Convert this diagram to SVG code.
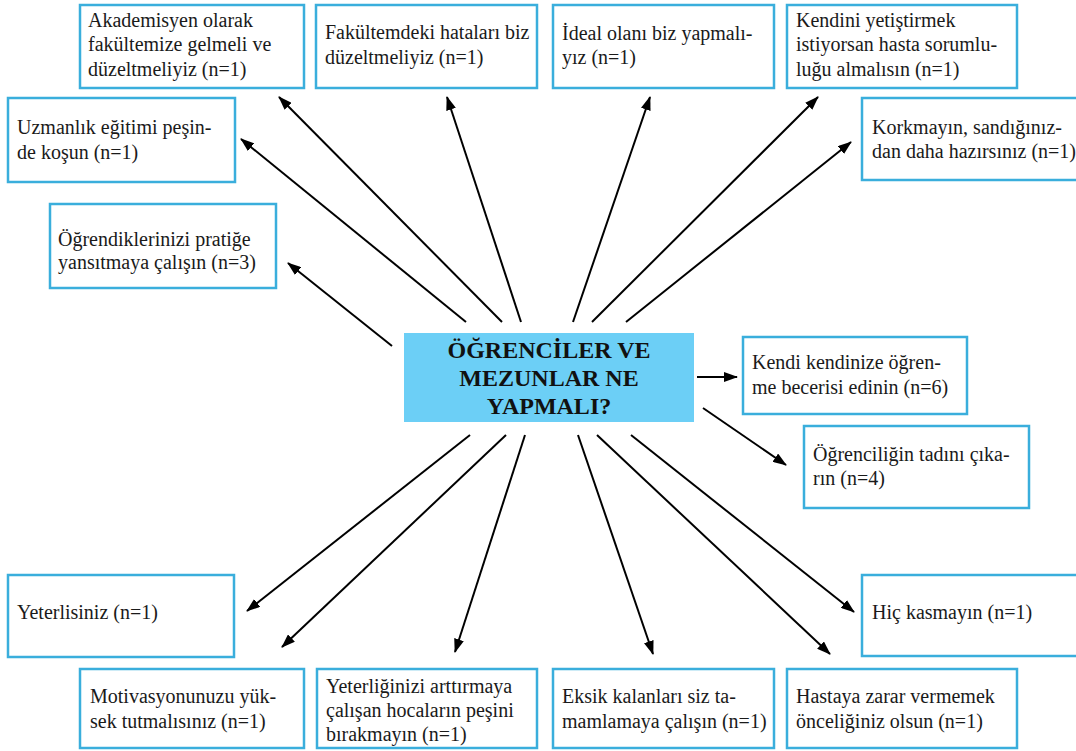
<svg xmlns="http://www.w3.org/2000/svg" width="1076" height="751" viewBox="0 0 1076 751">
  <style>
    .box { fill: #ffffff; stroke: #3aaedc; stroke-width: 2.5; }
    .hub { fill: #6ccff6; stroke: none; }
    text { font-family: 'Liberation Serif', Tinos, 'Times New Roman', 'DejaVu Serif', serif; }
    .t { font-size: 20px; fill: #1a1a1a; }
    .h { font-size: 24px; font-weight: bold; fill: #111111; text-anchor: middle; }
    .c line { stroke: #000000; stroke-width: 2; marker-end: url(#ah); }
  </style>
  <defs>
    <marker id="ah" viewBox="0 0 14 10" refX="13" refY="5" markerWidth="14" markerHeight="10" markerUnits="userSpaceOnUse" orient="auto">
      <path d="M0,0 L14,5 L0,10 Z" fill="#000000"/>
    </marker>
  </defs>
  <rect width="1076" height="751" fill="#ffffff"/>

  <!-- connectors radiating from the central topic -->
  <g id="connectors" class="c">
    <line x1="466" y1="322" x2="241" y2="139"/>
    <line x1="502" y1="322" x2="279" y2="97"/>
    <line x1="521" y1="322" x2="447" y2="97"/>
    <line x1="573" y1="322" x2="650" y2="97"/>
    <line x1="592" y1="322" x2="818" y2="97"/>
    <line x1="626" y1="322" x2="851" y2="142"/>
    <line x1="392" y1="346" x2="288" y2="263"/>
    <line x1="697" y1="377" x2="737" y2="377"/>
    <line x1="703" y1="408" x2="786" y2="465"/>
    <line x1="470" y1="435" x2="247" y2="611"/>
    <line x1="506" y1="435" x2="282" y2="647"/>
    <line x1="525" y1="435" x2="455" y2="652"/>
    <line x1="578" y1="435" x2="653" y2="654"/>
    <line x1="597" y1="435" x2="830" y2="654"/>
    <line x1="631" y1="435" x2="854" y2="612"/>
  </g>

  <!-- central topic -->
  <g id="hub">
    <rect class="hub" x="404" y="333" width="290" height="89"/>
    <text class="h" x="549" y="358">ÖĞRENCİLER VE</text>
    <text class="h" x="549" y="386">MEZUNLAR NE</text>
    <text class="h" x="549" y="414">YAPMALI?</text>
  </g>

  <g id="n-akademisyen">
    <rect class="box" x="80" y="5" width="224" height="83"/>
    <text class="t" x="88" y="27">Akademisyen olarak</text>
    <text class="t" x="88" y="51">fakültemize gelmeli ve</text>
    <text class="t" x="88" y="76">düzeltmeliyiz (n=1)</text>
  </g>
  <g id="n-fakultemdeki">
    <rect class="box" x="316" y="5" width="221" height="83"/>
    <text class="t" x="325" y="39">Fakültemdeki hataları biz</text>
    <text class="t" x="325" y="64">düzeltmeliyiz (n=1)</text>
  </g>
  <g id="n-ideal">
    <rect class="box" x="553" y="5" width="221" height="83"/>
    <text class="t" x="562" y="40">İdeal olanı biz yapmalı-</text>
    <text class="t" x="562" y="64">yız (n=1)</text>
  </g>
  <g id="n-kendini">
    <rect class="box" x="787" y="5" width="230" height="83"/>
    <text class="t" x="796" y="27">Kendini yetiştirmek</text>
    <text class="t" x="796" y="51">istiyorsan hasta sorumlu-</text>
    <text class="t" x="796" y="76">luğu almalısın (n=1)</text>
  </g>
  <g id="n-uzmanlik">
    <rect class="box" x="8" y="98" width="227" height="84"/>
    <text class="t" x="17" y="134">Uzmanlık eğitimi peşin-</text>
    <text class="t" x="17" y="159">de koşun (n=1)</text>
  </g>
  <g id="n-korkmayin">
    <rect class="box" x="862" y="98" width="230" height="82"/>
    <text class="t" x="872" y="134">Korkmayın, sandığınız-</text>
    <text class="t" x="872" y="158">dan daha hazırsınız (n=1)</text>
  </g>
  <g id="n-ogrendiklerinizi">
    <rect class="box" x="50" y="204" width="226" height="84"/>
    <text class="t" x="58" y="246">Öğrendiklerinizi pratiğe</text>
    <text class="t" x="58" y="269">yansıtmaya çalışın (n=3)</text>
  </g>
  <g id="n-kendi-kendinize">
    <rect class="box" x="743" y="337" width="224" height="77"/>
    <text class="t" x="752" y="369">Kendi kendinize öğren-</text>
    <text class="t" x="752" y="394">me becerisi edinin (n=6)</text>
  </g>
  <g id="n-ogrencilik">
    <rect class="box" x="804" y="426" width="225" height="82"/>
    <text class="t" x="813" y="461">Öğrenciliğin tadını çıka-</text>
    <text class="t" x="813" y="485">rın (n=4)</text>
  </g>
  <g id="n-yeterlisiniz">
    <rect class="box" x="8" y="575" width="226" height="82"/>
    <text class="t" x="17" y="619">Yeterlisiniz (n=1)</text>
  </g>
  <g id="n-hic-kasmayin">
    <rect class="box" x="862" y="575" width="230" height="81"/>
    <text class="t" x="872" y="619">Hiç kasmayın (n=1)</text>
  </g>
  <g id="n-motivasyon">
    <rect class="box" x="80" y="669" width="224" height="79"/>
    <text class="t" x="90" y="703">Motivasyonunuzu yük-</text>
    <text class="t" x="90" y="728">sek tutmalısınız (n=1)</text>
  </g>
  <g id="n-yeterliginizi">
    <rect class="box" x="317" y="669" width="220" height="79"/>
    <text class="t" x="326" y="693">Yeterliğinizi arttırmaya</text>
    <text class="t" x="326" y="717">çalışan hocaların peşini</text>
    <text class="t" x="326" y="741">bırakmayın (n=1)</text>
  </g>
  <g id="n-eksik">
    <rect class="box" x="553" y="669" width="221" height="79"/>
    <text class="t" x="562" y="703">Eksik kalanları siz ta-</text>
    <text class="t" x="562" y="728">mamlamaya çalışın (n=1)</text>
  </g>
  <g id="n-hastaya">
    <rect class="box" x="787" y="669" width="230" height="79"/>
    <text class="t" x="796" y="703">Hastaya zarar vermemek</text>
    <text class="t" x="796" y="728">önceliğiniz olsun (n=1)</text>
  </g>
</svg>
